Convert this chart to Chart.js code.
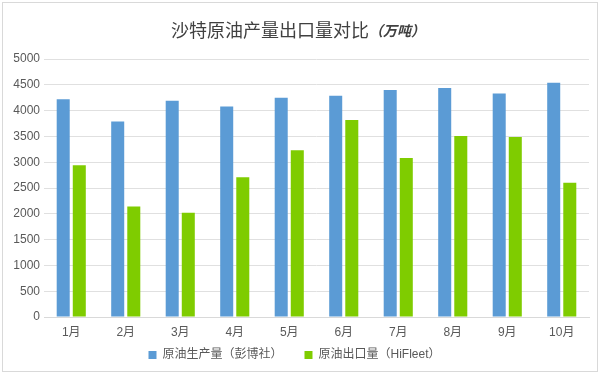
<!DOCTYPE html>
<html>
<head>
<meta charset="utf-8">
<script src="https://cdn.jsdelivr.net/npm/chart.js@4/dist/chart.umd.min.js"></script>
<style>
html,body{margin:0;padding:0;background:#fff;}
#wrap{position:absolute;left:0;top:0;width:602px;height:376px;}
</style>
</head>
<body>
<div id="wrap"><canvas id="c" width="602" height="376"></canvas></div>
<script>
const categories = ['1月','2月','3月','4月','5月','6月','7月','8月','9月','10月'];
const productionLabel = '原油生产量（彭博社）';
const exportLabel = '原油出口量（HiFleet）';
const production = [4220, 3790, 4190, 4080, 4250, 4290, 4400, 4440, 4330, 4540];
const exports = [2940, 2140, 2020, 2710, 3230, 3820, 3080, 3510, 3490, 2600];
const titleMain = '沙特原油产量出口量对比';
const titleUnit = '（万吨）';
const yTicks = [0, 500, 1000, 1500, 2000, 2500, 3000, 3500, 4000, 4500, 5000];

const FONT = '"Liberation Sans", "Noto Sans CJK SC", sans-serif';
const TEXT = '#595959';

const framePlugin = {
  id: 'frame',
  beforeDraw(chart) {
    const ctx = chart.ctx;
    ctx.save();
    ctx.fillStyle = '#fff';
    ctx.fillRect(0, 0, chart.width, chart.height);
    ctx.strokeStyle = '#d9d9d9';
    ctx.lineWidth = 1;
    ctx.strokeRect(2.5, 2.5, 595, 369);
    ctx.restore();
  },
  afterDraw(chart) {
    const ctx = chart.ctx;
    ctx.save();
    const f1 = '18px "Noto Sans CJK SC", sans-serif';
    const f2 = 'italic bold 14px "Noto Sans CJK SC", sans-serif';
    ctx.font = f1; const w1 = ctx.measureText(titleMain).width;
    ctx.font = f2; const w2 = ctx.measureText(titleUnit).width;
    let x = 298 - (w1 + w2) / 2;
    const y = 30;
    ctx.textBaseline = 'middle';
    ctx.textAlign = 'left';
    ctx.fillStyle = '#404040';
    ctx.font = f1; ctx.fillText(titleMain, x, y);
    ctx.font = f2; ctx.fillText(titleUnit, x + w1, y + 1);
    ctx.restore();
  }
};

new Chart(document.getElementById('c'), {
  type: 'bar',
  data: {
    labels: categories,
    datasets: [
      { label: productionLabel, data: production, backgroundColor: '#5b9bd5', borderWidth: 0 },
      { label: exportLabel, data: exports, backgroundColor: '#7fcc00', borderWidth: 0 }
    ]
  },
  options: {
    responsive: false,
    animation: false,
    devicePixelRatio: 1,
    layout: { padding: { top: 59, left: 0, right: 13, bottom: 5 } },
    datasets: { bar: { categoryPercentage: 0.59, barPercentage: 0.81 } },
    plugins: {
      title: { display: false },
      tooltip: { enabled: false },
      legend: {
        position: 'bottom',
        labels: {
          boxWidth: 8, boxHeight: 8, padding: 22,
          color: TEXT,
          font: { family: FONT, size: 12 }
        }
      }
    },
    scales: {
      x: {
        afterFit(scale) { scale.height = 10; scale._computeLabelArea = () => undefined; },
        grid: { display: false },
        border: { display: true, color: '#d9d9d9' },
        ticks: { color: TEXT, font: { family: FONT, size: 12 }, padding: 0, autoSkip: false, maxRotation: 0 }
      },
      y: {
        min: 0, max: 5000,
        afterFit(scale) { scale.width = 44; },
        afterBuildTicks(scale) { scale.ticks = yTicks.map(v => ({ value: v })); },
        grid: { color: '#e0e0e0', drawTicks: false },
        border: { display: false },
        ticks: { color: TEXT, font: { family: FONT, size: 12 }, padding: 4, callback: v => String(v) }
      }
    }
  },
  plugins: [framePlugin]
});
</script>
</body>
</html>
